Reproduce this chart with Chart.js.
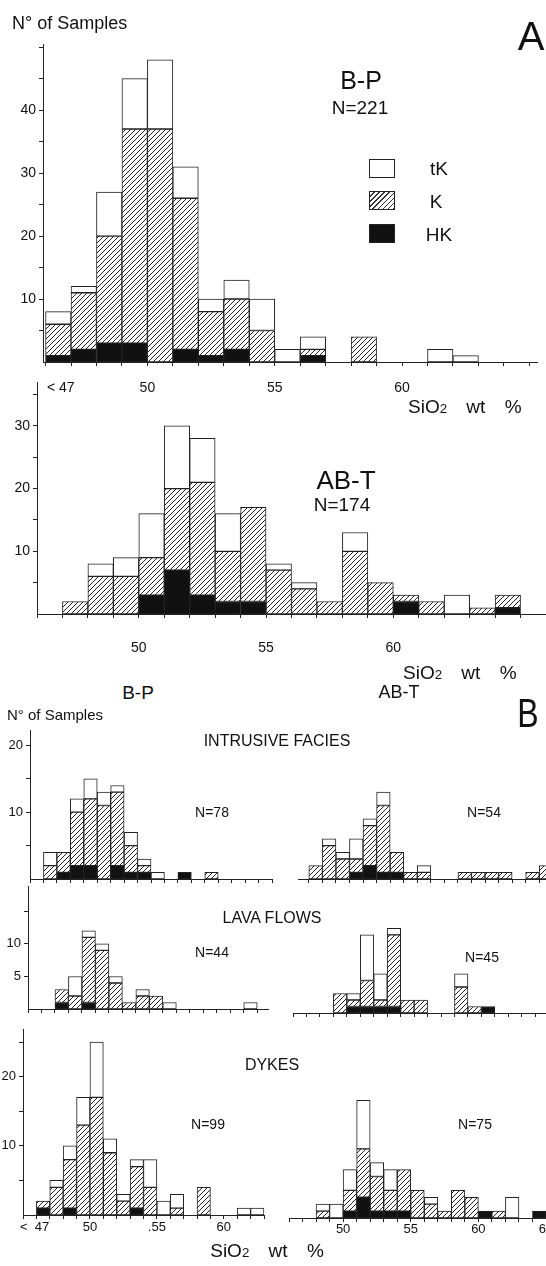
<!DOCTYPE html>
<html>
<head>
<meta charset="utf-8">
<script src="https://cdn.jsdelivr.net/npm/chart.js@4.4.1/dist/chart.umd.min.js"></script>
<style>
  html, body { margin: 0; padding: 0; background: #fff; }
  #fig { position: relative; width: 546px; height: 1266px; overflow: hidden;
         font-family: "Liberation Sans", Arial, sans-serif; color: #111; }
  #fig canvas { position: absolute; }
  .t { position: absolute; white-space: nowrap; line-height: 1; transform: translate(-50%, -50%); }
  .l { position: absolute; white-space: nowrap; line-height: 1; transform: translateY(-50%); }
  .sw { position: absolute; width: 26px; height: 19px; box-sizing: border-box; border: 1px solid #222; }
  .sub { font-size: 70%; }
  .si { font-size: 19px; word-spacing: 14px; }
</style>
</head>
<body>
<div id="fig">
  <canvas id="cA1" width="546" height="400" style="left:0;top:0"></canvas>
  <canvas id="cA2" width="546" height="300" style="left:0;top:370px"></canvas>
  <canvas id="cB1" width="280" height="170" style="left:0;top:720px"></canvas>
  <canvas id="cB2" width="256" height="170" style="left:290px;top:720px"></canvas>
  <canvas id="cB3" width="280" height="140" style="left:0;top:880px"></canvas>
  <canvas id="cB4" width="261" height="144" style="left:285px;top:880px"></canvas>
  <canvas id="cB5" width="280" height="225" style="left:0;top:1020px"></canvas>
  <canvas id="cB6" width="266" height="225" style="left:280px;top:1020px"></canvas>

  <!-- panel A -->
  <div class="l" style="left:12px;top:23px;font-size:18px">N° of Samples</div>
  <div class="t" style="left:531px;top:36px;font-size:40px">A</div>
  <div class="t" style="left:361px;top:80px;font-size:25px">B-P</div>
  <div class="t" style="left:360px;top:107px;font-size:19px">N=221</div>
  <div class="sw" style="left:369px;top:159px;background:#fff"></div>
  <div class="sw" style="left:369px;top:191px;background:repeating-linear-gradient(135deg,#fff 0 2.6px,#333 2.6px 3.6px)"></div>
  <div class="sw" style="left:369px;top:224px;background:#111"></div>
  <div class="t" style="left:439px;top:168px;font-size:19px">tK</div>
  <div class="t" style="left:436px;top:201px;font-size:19px">K</div>
  <div class="t" style="left:439px;top:234px;font-size:19px">HK</div>
  <div class="l si" style="left:408px;top:406px">SiO<span class="sub">2</span> wt %</div>
  <div class="t" style="left:346px;top:480px;font-size:26px">AB-T</div>
  <div class="t" style="left:342px;top:504px;font-size:19px">N=174</div>
  <div class="l si" style="left:403px;top:672px">SiO<span class="sub">2</span> wt %</div>

  <!-- panel B -->
  <div class="t" style="left:138px;top:692px;font-size:19px">B-P</div>
  <div class="t" style="left:399px;top:692px;font-size:18px">AB-T</div>
  <div class="t" style="left:528px;top:713px;font-size:40px;transform:translate(-50%,-50%) scaleX(0.8)">B</div>
  <div class="l" style="left:7px;top:714px;font-size:15px">N° of Samples</div>
  <div class="t" style="left:277px;top:741px;font-size:16px">INTRUSIVE FACIES</div>
  <div class="t" style="left:212px;top:812px;font-size:14px">N=78</div>
  <div class="t" style="left:484px;top:812px;font-size:14px">N=54</div>
  <div class="t" style="left:272px;top:918px;font-size:16px">LAVA FLOWS</div>
  <div class="t" style="left:212px;top:952px;font-size:14px">N=44</div>
  <div class="t" style="left:482px;top:957px;font-size:14px">N=45</div>
  <div class="t" style="left:272px;top:1065px;font-size:16px">DYKES</div>
  <div class="t" style="left:208px;top:1124px;font-size:14px">N=99</div>
  <div class="t" style="left:475px;top:1124px;font-size:14px">N=75</div>
  <div class="t si" style="left:267px;top:1250px">SiO<span class="sub">2</span> wt %</div>
</div>

<script>
// lower edge of each 1 wt% SiO2 bin, and counts per group (HK, K, tK)
// A - all B-P rocks
const aBpBins = [46, 47, 48, 49, 50, 51, 52, 53, 54, 55, 56, 57, 58, 59, 60, 61, 62, 63];
const aBpHK   = [1, 2, 3, 3, 0, 2, 1, 2, 0, 0, 1, 0, 0, 0, 0, 0, 0, 0];
const aBpK    = [5, 9, 17, 34, 37, 24, 7, 8, 5, 0, 1, 0, 4, 0, 0, 0, 0, 0];
const aBpTK   = [2, 1, 7, 8, 11, 5, 2, 3, 5, 2, 2, 0, 0, 0, 0, 2, 1, 0];

// A - all AB-T rocks
const aAbBins = [47, 48, 49, 50, 51, 52, 53, 54, 55, 56, 57, 58, 59, 60, 61, 62, 63, 64];
const aAbHK   = [0, 0, 0, 3, 7, 3, 2, 2, 0, 0, 0, 0, 0, 2, 0, 0, 0, 1];
const aAbK    = [2, 6, 6, 6, 13, 18, 8, 15, 7, 4, 2, 10, 5, 1, 2, 0, 1, 2];
const aAbTK   = [0, 2, 3, 7, 10, 7, 6, 0, 1, 1, 0, 3, 0, 0, 0, 3, 0, 0];

// B - intrusive facies
const intBpBins = [46, 47, 48, 49, 50, 51, 52, 53, 54, 55, 56, 57, 58];
const intBpHK   = [0, 1, 2, 2, 0, 2, 1, 1, 0, 0, 1, 0, 0];
const intBpK    = [2, 3, 8, 10, 11, 11, 4, 1, 0, 0, 0, 0, 1];
const intBpTK   = [2, 0, 2, 3, 2, 1, 2, 1, 1, 0, 0, 0, 0];

const intAbBins = [47, 48, 49, 50, 51, 52, 53, 54, 55, 56, 57, 58, 59, 60, 61, 62, 63, 64];
const intAbHK   = [0, 0, 0, 1, 2, 1, 1, 0, 0, 0, 0, 0, 0, 0, 0, 0, 0, 0];
const intAbK    = [2, 5, 3, 2, 6, 10, 3, 1, 1, 0, 0, 1, 1, 1, 1, 0, 1, 2];
const intAbTK   = [0, 1, 1, 3, 1, 2, 0, 0, 1, 0, 0, 0, 0, 0, 0, 0, 0, 0];

// B - lava flows
const lavBpBins = [47, 48, 49, 50, 51, 52, 53, 54, 55, 56, 57, 58, 59, 60, 61];
const lavBpHK   = [1, 0, 1, 0, 0, 0, 0, 0, 0, 0, 0, 0, 0, 0, 0];
const lavBpK    = [2, 2, 10, 9, 4, 1, 2, 2, 0, 0, 0, 0, 0, 0, 0];
const lavBpTK   = [0, 3, 1, 1, 1, 0, 1, 0, 1, 0, 0, 0, 0, 0, 1];

const lavAbBins = [49, 50, 51, 52, 53, 54, 55, 56, 57, 58, 59, 60];
const lavAbHK   = [0, 1, 1, 1, 1, 0, 0, 0, 0, 0, 0, 1];
const lavAbK    = [3, 1, 4, 1, 11, 2, 2, 0, 0, 4, 1, 0];
const lavAbTK   = [0, 1, 7, 4, 1, 0, 0, 0, 0, 2, 0, 0];

// B - dykes
const dykBpBins = [46, 47, 48, 49, 50, 51, 52, 53, 54, 55, 56, 57, 58, 59, 60, 61, 62];
const dykBpHK   = [1, 0, 1, 0, 0, 0, 0, 1, 0, 0, 0, 0, 0, 0, 0, 0, 0];
const dykBpK    = [1, 4, 7, 13, 17, 9, 2, 6, 4, 0, 1, 0, 4, 0, 0, 0, 0];
const dykBpTK   = [0, 1, 2, 4, 8, 2, 1, 1, 4, 2, 2, 0, 0, 0, 0, 1, 1];

const dykAbBins = [48, 49, 50, 51, 52, 53, 54, 55, 56, 57, 58, 59, 60, 61, 62, 63, 64];
const dykAbHK   = [0, 0, 1, 3, 1, 1, 1, 0, 0, 0, 0, 0, 1, 0, 0, 0, 1];
const dykAbK    = [1, 0, 3, 7, 5, 3, 6, 4, 2, 1, 4, 3, 0, 1, 0, 0, 0];
const dykAbTK   = [1, 2, 3, 7, 2, 3, 0, 0, 1, 0, 0, 0, 0, 0, 3, 0, 0];

Chart.defaults.font.family = '"Liberation Sans", Arial, sans-serif';
Chart.defaults.color = '#111';

// diagonal hatch for the K group
function makeHatch() {
    const c = document.createElement('canvas');
    c.width = 5; c.height = 5;
    const g = c.getContext('2d');
    g.fillStyle = '#fff';
    g.fillRect(0, 0, 5, 5);
    g.strokeStyle = '#222';
    g.lineWidth = 1;
    g.beginPath();
    g.moveTo(-1, 6); g.lineTo(6, -1);
    g.moveTo(-1, 1); g.lineTo(1, -1);
    g.moveTo(4, 6); g.lineTo(6, 4);
    g.stroke();
    return g.createPattern(c, 'repeat');
}
const HATCH = makeHatch();
const INK = '#222';

function intTicks(a, b) {
    const out = [];
    for (let v = Math.ceil(a); v <= Math.floor(b); v++) out.push(v);
    return out;
}

function panel(id, bins, hk, k, tk, o) {
    const pts = arr => bins.map((b, i) => ({ x: b + 0.5, y: arr[i] }));
    const xLab = {};
    o.xLabVals.forEach((v, i) => { xLab[v] = o.xLabs[i]; });
    const xVals = intTicks(o.xmin, o.xmax).concat(o.xLabVals.filter(v => !Number.isInteger(v)));
    const yVals = [];
    for (let v = 5; v <= o.ymax; v += 5) yVals.push(v);

    new Chart(document.getElementById(id), {
        type: 'bar',
        data: {
            datasets: [
                { label: 'HK', data: pts(hk), backgroundColor: '#111' },
                { label: 'K', data: pts(k), backgroundColor: HATCH },
                { label: 'tK', data: pts(tk), backgroundColor: '#fff' }
            ]
        },
        options: {
            responsive: false,
            animation: false,
            events: [],
            layout: { padding: { left: o.padL || 0, right: o.padR || 0, top: o.padT, bottom: 0 } },
            datasets: {
                bar: {
                    barPercentage: 1, categoryPercentage: 1,
                    borderWidth: 1, borderColor: INK, borderSkipped: false, stack: 's'
                }
            },
            plugins: { legend: { display: false }, tooltip: { enabled: false } },
            scales: {
                x: {
                    type: 'linear', min: o.xmin, max: o.xmax, offset: false, stacked: true,
                    grid: {
                        drawOnChartArea: false, offset: false, tickLength: 4,
                        tickColor: c => Number.isInteger(c.tick.value) ? INK : 'rgba(0,0,0,0)'
                    },
                    border: { color: INK, width: 1 },
                    ticks: {
                        autoSkip: false, maxRotation: 0, padding: o.xPad,
                        font: { size: o.fs }, color: '#111',
                        callback: v => (xLab[v] !== undefined ? xLab[v] : '')
                    },
                    afterBuildTicks: s => { s.ticks = xVals.map(v => ({ value: v })); },
                    afterFit: s => { s.height = o.xh; s.paddingLeft = 0; s.paddingRight = 0; }
                },
                y: {
                    display: o.showY, min: 0, max: o.ymax, stacked: true,
                    grid: { drawOnChartArea: false, tickLength: 4, tickColor: INK },
                    border: { color: INK, width: 1 },
                    ticks: {
                        padding: 3, font: { size: o.fs }, color: '#111',
                        callback: v => (o.yLabs.includes(v) ? String(v) : '')
                    },
                    afterBuildTicks: s => { s.ticks = yVals.map(v => ({ value: v })); },
                    afterFit: s => { s.width = o.yw; s.paddingTop = 0; s.paddingBottom = 0; }
                }
            }
        }
    });
}

// A: all samples
panel('cA1', aBpBins, aBpHK, aBpK, aBpTK, {
    xmin: 45.9, xmax: 65.3, ymax: 50.5, showY: true, yw: 43, padT: 44, padR: 9, xh: 38,
    xLabVals: [46.6, 50, 55, 60], xLabs: ['< 47', '50', '55', '60'], yLabs: [10, 20, 30, 40],
    fs: 14, xPad: 14
});
panel('cA2', aAbBins, aAbHK, aAbK, aAbTK, {
    xmin: 46, xmax: 66, ymax: 37, showY: true, yw: 37, padT: 12, padR: 0, xh: 56,
    xLabVals: [50, 55, 60], xLabs: ['50', '55', '60'], yLabs: [10, 20, 30],
    fs: 14, xPad: 22
});

// B: by facies
panel('cB1', intBpBins, intBpHK, intBpK, intBpTK, {
    xmin: 45, xmax: 63, ymax: 22.3, showY: true, yw: 30, padT: 10, padR: 8, xh: 11,
    xLabVals: [], xLabs: [], yLabs: [10, 20], fs: 13, xPad: 0
});
panel('cB2', intAbBins, intAbHK, intAbK, intAbTK, {
    xmin: 46.2, xmax: 64.5, ymax: 22.3, showY: false, yw: 0, padL: 8, padT: 10, xh: 11,
    xLabVals: [], xLabs: [], yLabs: [], fs: 13, xPad: 0
});
panel('cB3', lavBpBins, lavBpHK, lavBpK, lavBpTK, {
    xmin: 45, xmax: 62.8, ymax: 18.9, showY: true, yw: 28, padT: 6, padR: 12, xh: 11,
    xLabVals: [], xLabs: [], yLabs: [5, 10], fs: 13, xPad: 0
});
panel('cB4', lavAbBins, lavAbHK, lavAbK, lavAbTK, {
    xmin: 46, xmax: 64.8, ymax: 18.9, showY: false, yw: 0, padL: 8, padT: 10, xh: 11,
    xLabVals: [], xLabs: [], yLabs: [], fs: 13, xPad: 0
});
panel('cB5', dykBpBins, dykBpHK, dykBpK, dykBpTK, {
    xmin: 45, xmax: 63, ymax: 26.9, showY: true, yw: 23, padT: 9, padR: 16, xh: 30,
    xLabVals: [45.86, 50, 55, 60], xLabs: ['<  47', '50', '.55', '60'], yLabs: [10, 20],
    fs: 13, xPad: 1
});
panel('cB6', dykAbBins, dykAbHK, dykAbK, dykAbTK, {
    xmin: 46, xmax: 65, ymax: 26.9, showY: false, yw: 0, padL: 9, padT: 12, xh: 27,
    xLabVals: [50, 55, 60, 65], xLabs: ['50', '55', '60', '65'], yLabs: [],
    fs: 13, xPad: 0
});
</script>
</body>
</html>
